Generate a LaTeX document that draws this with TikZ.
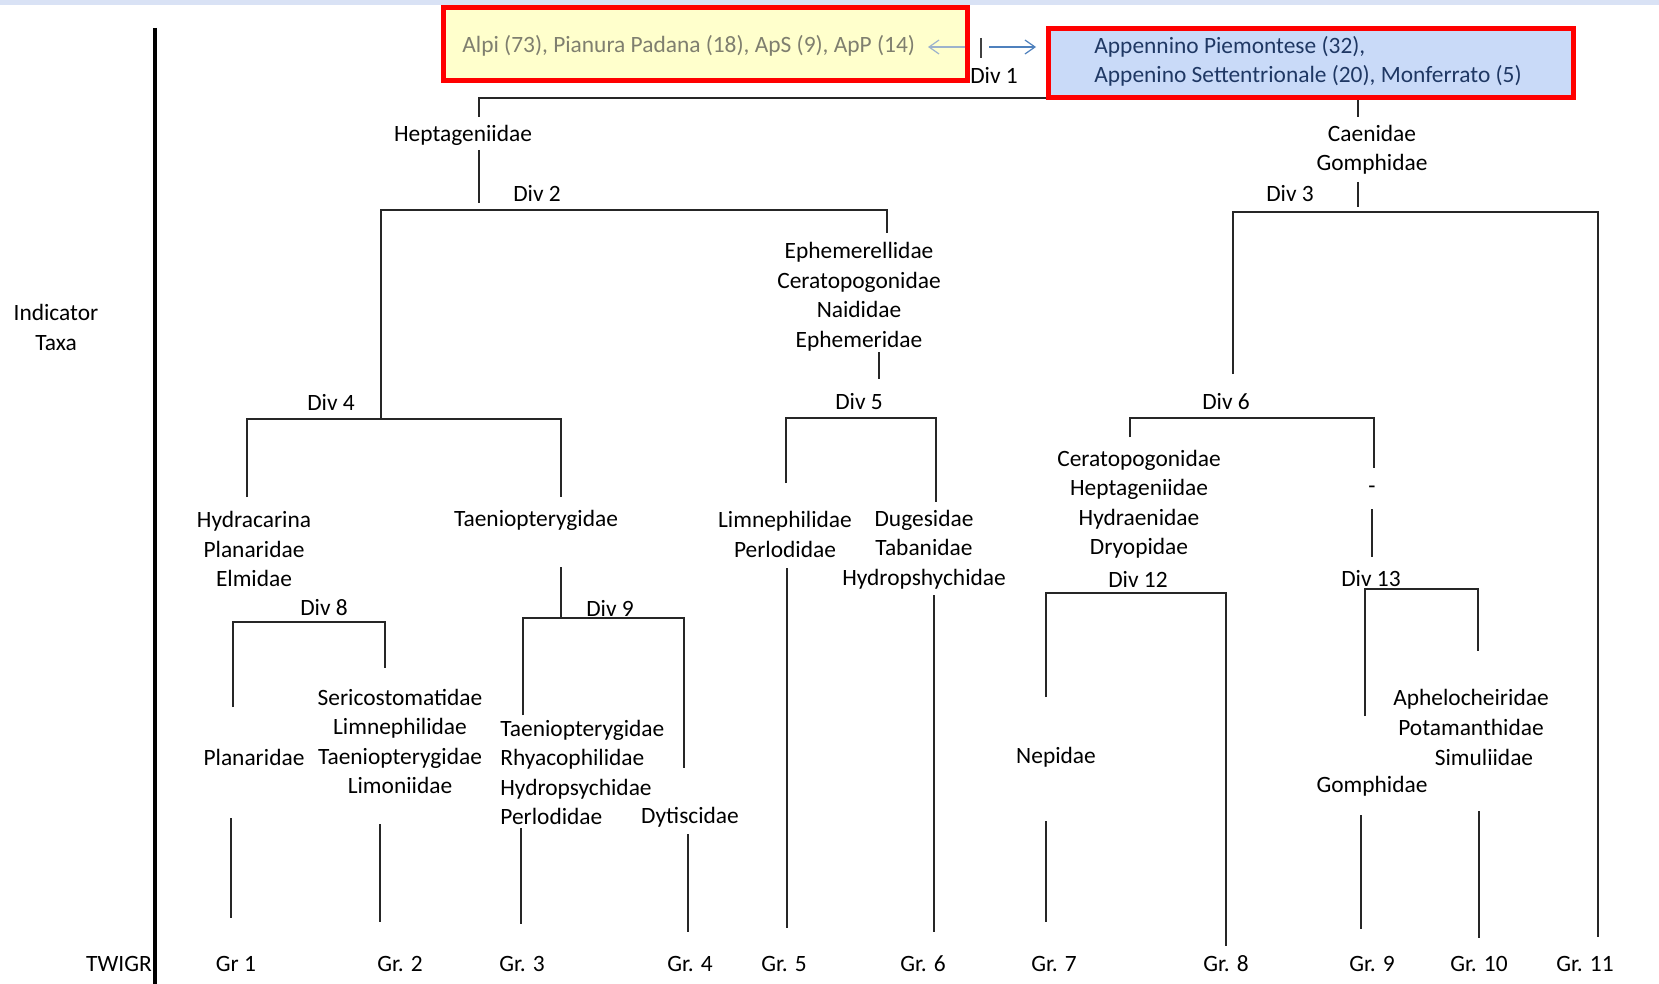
\documentclass[tikz,border=0pt]{standalone}
\usepackage{fontspec}
\setmainfont{Carlito}
\usetikzlibrary{arrows.meta}
\definecolor{bandblue}{HTML}{D9E2F5}
\definecolor{boxyellow}{HTML}{FFFFCC}
\definecolor{boxblue}{HTML}{C9DAF8}
\definecolor{boxred}{HTML}{FF0000}
\definecolor{greytext}{HTML}{7F7F6F}
\definecolor{navytext}{HTML}{1F3864}
\definecolor{arrowgrey}{HTML}{9DB3CC}
\definecolor{arrowblue}{HTML}{4F81BD}

\begin{document}
\begin{tikzpicture}[x=0.5pt,y=-0.5pt,
	taxon/.style = {inner sep=0pt, align=center, font=\fontsize{11.7}{14.75}\selectfont},
	branch/.style = {draw=black!85, line width=0.6pt},
	regionbox/.style = {draw=boxred, line width=2.5pt, inner sep=0pt}]

	\useasboundingbox (0,0) rectangle (1659,984);
	\fill[white] (0,0) rectangle (1659,984);
	\fill[bandblue] (0,0) rectangle (1659,5);

	% end points of the branches
	\foreach \n/\x/\y in {d1l/479/117, d1t/900/98, d1r/1358/117, s1a/479/150, s1b/479/203,
		d2l/381/419, d2t/479/210, d2r/887/233, s2a/879/352, s2b/879/379,
		d5l/786/483, d5t/879/418, d5r/936/502, d4l/247/497, d4t/381/419, d4r/561/497,
		s3a/561/567, s3b/561/618, d9l/523/715, d9t/561/618, d9r/684/768,
		d8l/233/707, d8t/300/622, d8r/385/668,
		g1a/231/818, g1b/231/918, g2a/380/824, g2b/380/922, g3a/521/828, g3b/521/924,
		g4a/688/834, g4b/688/932, g5a/787/568, g5b/787/928, g6a/934/595, g6b/934/932,
		s4a/1358/182, s4b/1358/207, d3l/1233/374, d3t/1358/212, d3r/1598/937,
		d6l/1130/437, d6t/1233/418, d6r/1374/468, s5a/1372/509, s5b/1372/557,
		d12l/1046/697, d12t/1139/593, d12r/1226/946, g7a/1046/821, g7b/1046/922,
		d13l/1365/716, d13t/1372/589, d13r/1478/651,
		g9a/1361/815, g9b/1361/929, g10a/1479/811, g10b/1479/938,
		ax1/155/28, ax2/155/984, a1/965/47, a2/928/47, b1/981/38, b2/981/58, a3/989/47, a4/1036/47}
		\coordinate (\n) at (\x,\y);

	% divisions
	\draw[branch] (d1l) |- (d1t) -| (d1r);
	\draw[branch] (d2l) |- (d2t) -| (d2r);
	\draw[branch] (d3l) |- (d3t) -| (d3r);
	\draw[branch] (d4l) |- (d4t) -| (d4r);
	\draw[branch] (d5l) |- (d5t) -| (d5r);
	\draw[branch] (d6l) |- (d6t) -| (d6r);
	\draw[branch] (d8l) |- (d8t) -| (d8r);
	\draw[branch] (d9l) |- (d9t) -| (d9r);
	\draw[branch] (d12l) |- (d12t) -| (d12r);
	\draw[branch] (d13l) |- (d13t) -| (d13r);
	\foreach \a/\b in {s1a/s1b, s2a/s2b, s3a/s3b, s4a/s4b, s5a/s5b, g1a/g1b, g2a/g2b,
		g3a/g3b, g4a/g4b, g5a/g5b, g6a/g6b, g7a/g7b, g9a/g9b, g10a/g10b}
		\draw[branch] (\a) -- (\b);
	\draw[line width=1.6pt] (ax1) -- (ax2);

	\node[taxon] (div1) at (994,75) {Div 1};

	% the two groups of Div 1
	\node[regionbox, fill=boxyellow, minimum width=262pt, minimum height=36.5pt] (north) at (705.5,44.5) {};
	\node[regionbox, fill=boxblue, minimum width=262.5pt, minimum height=34.5pt] (south) at (1311,63) {};
	\node[taxon, text=greytext, anchor=west] (alpi) at (462,45.5) {Alpi (73), Pianura Padana (18), ApS (9), ApP (14)};
	\node[taxon, text=navytext, anchor=west, align=left] (appe) at (1094,61.5) {Appennino Piemontese (32),\\Appenino Settentrionale (20), Monferrato (5)};
	\draw[arrowgrey, line width=0.6pt, -{Straight Barb[length=5pt,width=7pt]}] (a1) -- (a2);
	\draw[black!75, line width=0.8pt] (b1) -- (b2);
	\draw[arrowblue, line width=0.6pt, -{Straight Barb[length=5pt,width=7pt]}] (a3) -- (a4);

	\node[taxon] (ind) at (56,327.5) {Indicator\\Taxa};
	\node[taxon] (twigr) at (119,964) {TWIGR};

	\node[taxon] (hep) at (463,135) {Heptageniidae};
	\node[taxon] (div2) at (537,193) {Div 2};
	\node[taxon] (caen) at (1372,150) {Caenidae\\Gomphidae};
	\node[taxon] (div3) at (1290,194) {Div 3};
	\node[taxon] (ephe) at (859,297) {Ephemerellidae\\Ceratopogonidae\\Naididae\\Ephemeridae};
	\node[taxon] (div4) at (331,402) {Div 4};
	\node[taxon] (div5) at (859,402) {Div 5};
	\node[taxon] (div6) at (1226,402) {Div 6};
	\node[taxon] (hydra) at (254,549) {Hydracarina\\Planaridae\\Elmidae};
	\node[taxon] (taen) at (536,520) {Taeniopterygidae};
	\node[taxon] (limn) at (785,534.5) {Limnephilidae\\Perlodidae};
	\node[taxon] (duge) at (924,549.5) {Dugesidae\\Tabanidae\\Hydropshychidae};
	\node[taxon] (cera) at (1139,504.5) {Ceratopogonidae\\Heptageniidae\\Hydraenidae\\Dryopidae};
	\node[taxon] (dash) at (1372,490) {-};
	\node[taxon] (div12) at (1138,579) {Div 12};
	\node[taxon] (div13) at (1371,579) {Div 13};
	\node[taxon] (div8) at (324,608) {Div 8};
	\node[taxon] (div9) at (610,608) {Div 9};
	\node[taxon] (seri) at (400,741.5) {Sericostomatidae\\Limnephilidae\\Taeniopterygidae\\Limoniidae};
	\node[taxon] (plan) at (254,757) {Planaridae};
	\node[taxon, anchor=west, align=left] (rhya) at (500,772.5) {Taeniopterygidae\\Rhyacophilidae\\Hydropsychidae\\Perlodidae};
	\node[taxon] (dyti) at (690,817) {Dytiscidae};
	\node[taxon] (nepi) at (1056,757) {Nepidae};
	\node[taxon] (aphe) at (1471,712.5) {Aphelocheiridae\\Potamanthidae};
	\node[taxon] (simu) at (1484,757) {Simuliidae};
	\node[taxon] (gomp) at (1372,786) {Gomphidae};

	% groups
	\foreach \n/\x/\t in {gr1/236/Gr 1, gr2/400/Gr. 2, gr3/522/Gr. 3, gr4/690/Gr. 4, gr5/784/Gr. 5,
		gr6/923/Gr. 6, gr7/1054/Gr. 7, gr8/1226/Gr. 8, gr9/1372/Gr. 9, gr10/1479/Gr. 10, gr11/1585/Gr. 11}
		\node[taxon] (\n) at (\x,964) {\t};
\end{tikzpicture}
\end{document}
